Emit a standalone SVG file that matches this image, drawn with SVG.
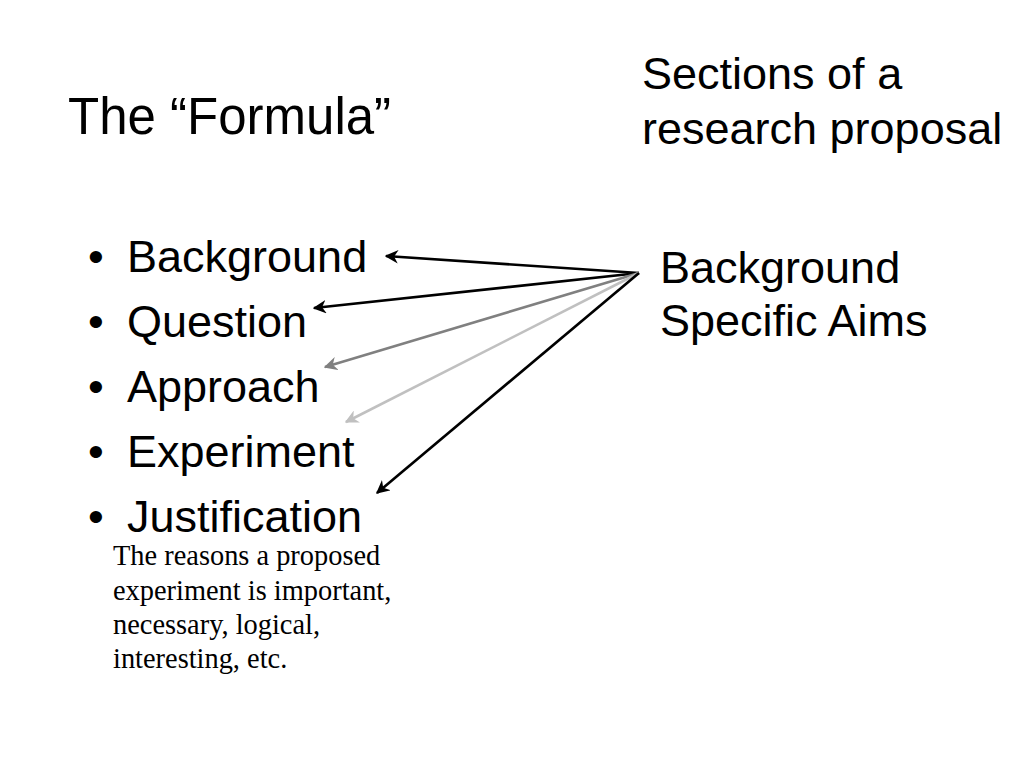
<svg xmlns="http://www.w3.org/2000/svg" width="1024" height="768" viewBox="0 0 1024 768">
<defs>
<style>
.s{font-family:"Liberation Sans",Arial,sans-serif;fill:#000;font-size:45px}
.h{font-size:51px}
.t{font-family:"Liberation Serif","Times New Roman",serif;fill:#000;font-size:28.4px}
.c{fill:none;stroke-width:2.6}
</style>
<marker id="mk" viewBox="0 0 10 10" refX="9" refY="5" markerWidth="5.2" markerHeight="5.2" orient="auto" markerUnits="strokeWidth"><path d="M0,0 L10,5 L0,10 L3,5 z" fill="#000"/></marker>
<marker id="mg" viewBox="0 0 10 10" refX="9" refY="5" markerWidth="5.2" markerHeight="5.2" orient="auto" markerUnits="strokeWidth"><path d="M0,0 L10,5 L0,10 L3,5 z" fill="#808080"/></marker>
<marker id="ml" viewBox="0 0 10 10" refX="9" refY="5" markerWidth="5.2" markerHeight="5.2" orient="auto" markerUnits="strokeWidth"><path d="M0,0 L10,5 L0,10 L3,5 z" fill="#c0c0c0"/></marker>
</defs>
<rect width="1024" height="768" fill="#fff"/>
<g id="title"><text class="s h" x="68" y="134">The “Formula”</text></g>
<g id="sections"><text class="s" x="642" y="89">Sections of a</text><text class="s" x="642" y="144">research proposal</text></g>
<g id="formula-list">
<g id="item-background"><text class="s" x="88" y="272">•</text><text class="s" x="127" y="272">Background</text></g>
<g id="item-question"><text class="s" x="88" y="337">•</text><text class="s" x="127" y="337">Question</text></g>
<g id="item-approach"><text class="s" x="88" y="402">•</text><text class="s" x="127" y="402">Approach</text></g>
<g id="item-experiment"><text class="s" x="88" y="467">•</text><text class="s" x="127" y="467">Experiment</text></g>
<g id="item-justification"><text class="s" x="88" y="532">•</text><text class="s" x="127" y="532">Justification</text></g>
</g>
<g id="note"><text class="t" x="113" y="565">The reasons a proposed</text><text class="t" x="113" y="600">experiment is important,</text><text class="t" x="113" y="634">necessary, logical,</text><text class="t" x="113" y="668">interesting, etc.</text></g>
<g id="proposal-sections"><text class="s" x="660" y="283">Background</text><text class="s" x="660" y="336">Specific Aims</text></g>
<g id="connectors">
<line class="c" x1="639" y1="273" x2="386" y2="256" stroke="#000" marker-end="url(#mk)"/>
<line class="c" x1="639" y1="273" x2="314" y2="308" stroke="#000" marker-end="url(#mk)"/>
<line class="c" x1="639" y1="273" x2="325" y2="367" stroke="#808080" marker-end="url(#mg)"/>
<line class="c" x1="639" y1="273" x2="346" y2="422" stroke="#c0c0c0" marker-end="url(#ml)"/>
<line class="c" x1="639" y1="273" x2="377" y2="493" stroke="#000" marker-end="url(#mk)"/>
</g>
</svg>
